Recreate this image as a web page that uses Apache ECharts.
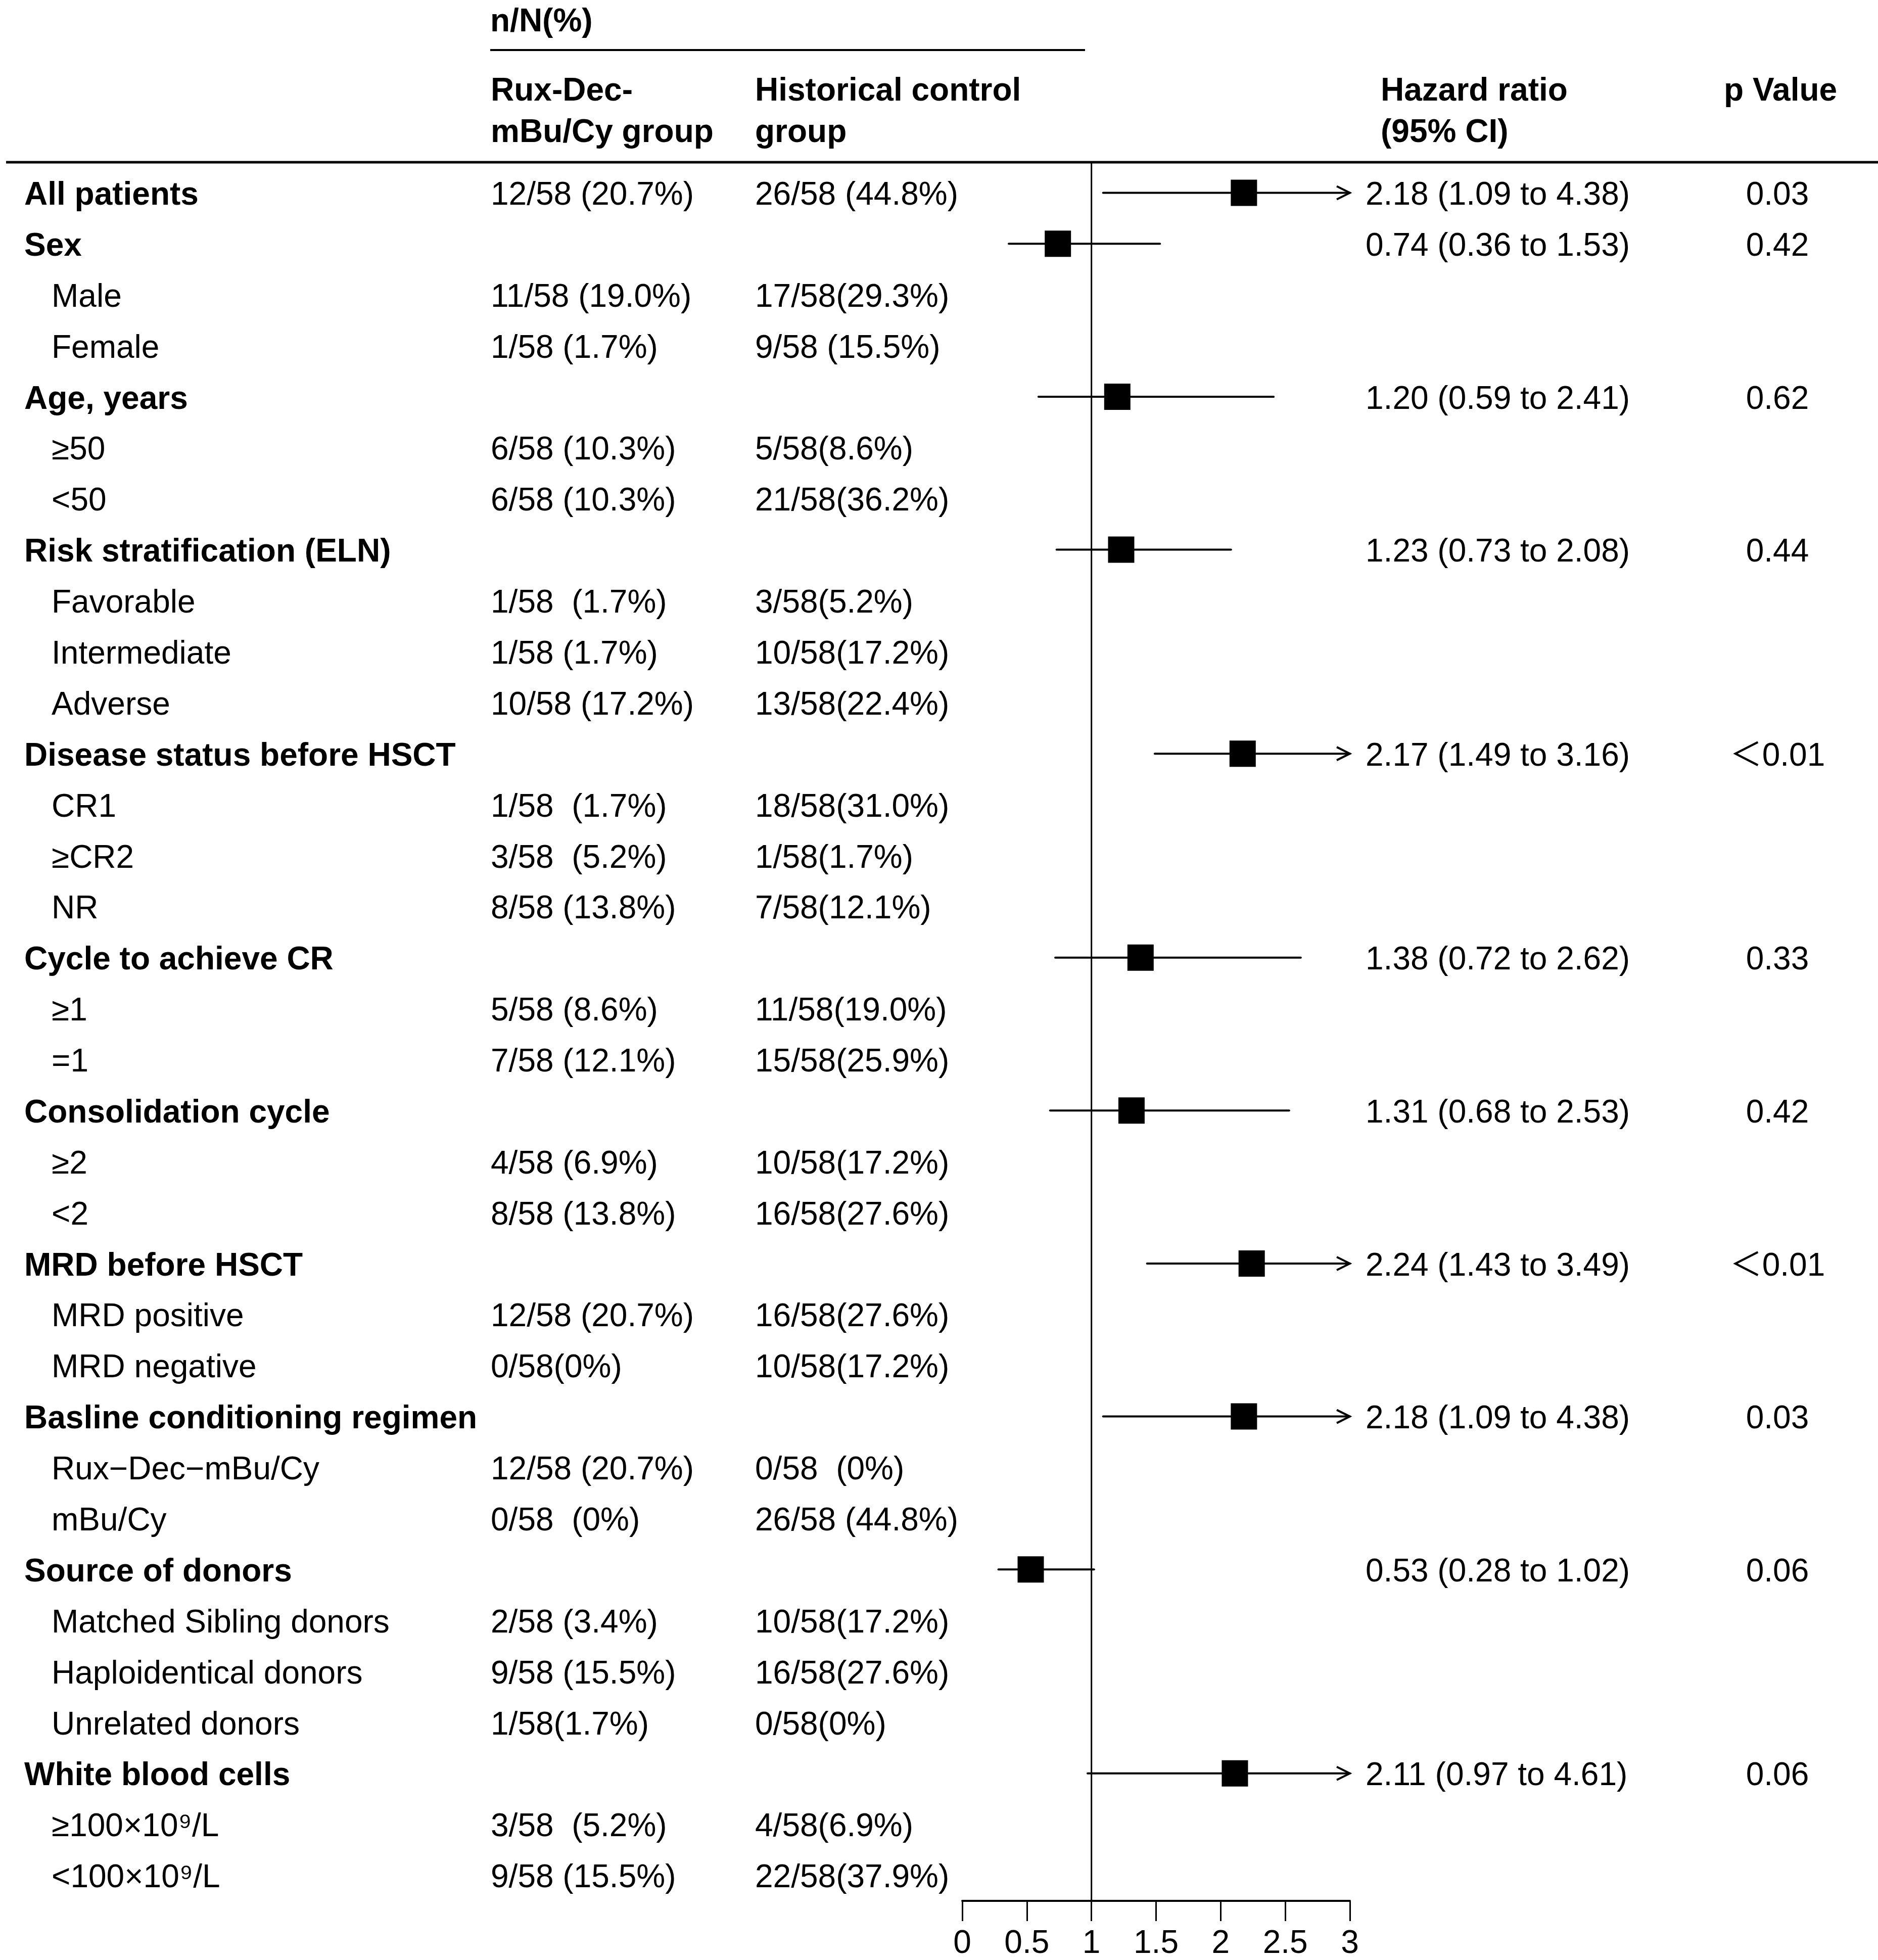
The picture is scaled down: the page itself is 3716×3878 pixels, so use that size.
<!DOCTYPE html>
<html>
<head>
<meta charset="utf-8">
<title>Forest plot</title>
<script src="https://cdn.jsdelivr.net/npm/echarts@6/dist/echarts.min.js"></script>
<style>
  html, body { margin: 0; padding: 0; background: #fff; }
  #forest { width: 3716px; height: 3878px; }
</style>
</head>
<body>
<div id="forest"></div>
<script>
// subgroup rows, top to bottom
var rowLabels = [
  'All patients', 'Sex', 'Male', 'Female',
  'Age, years', '≥50', '<50',
  'Risk stratification (ELN)', 'Favorable', 'Intermediate', 'Adverse',
  'Disease status before HSCT', 'CR1', '≥CR2', 'NR',
  'Cycle to achieve CR', '≥1', '=1',
  'Consolidation cycle', '≥2', '<2',
  'MRD before HSCT', 'MRD positive', 'MRD negative',
  'Basline conditioning regimen', 'Rux\u2212Dec\u2212mBu/Cy', 'mBu/Cy',
  'Source of donors', 'Matched Sibling donors', 'Haploidentical donors', 'Unrelated donors',
  'White blood cells', '≥100×10⁹/L', '<100×10⁹/L'
];
var ruxCounts = [
  '12/58 (20.7%)', '', '11/58 (19.0%)', '1/58 (1.7%)',
  '', '6/58 (10.3%)', '6/58 (10.3%)',
  '', '1/58  (1.7%)', '1/58 (1.7%)', '10/58 (17.2%)',
  '', '1/58  (1.7%)', '3/58  (5.2%)', '8/58 (13.8%)',
  '', '5/58 (8.6%)', '7/58 (12.1%)',
  '', '4/58 (6.9%)', '8/58 (13.8%)',
  '', '12/58 (20.7%)', '0/58(0%)',
  '', '12/58 (20.7%)', '0/58  (0%)',
  '', '2/58 (3.4%)', '9/58 (15.5%)', '1/58(1.7%)',
  '', '3/58  (5.2%)', '9/58 (15.5%)'
];
var controlCounts = [
  '26/58 (44.8%)', '', '17/58(29.3%)', '9/58 (15.5%)',
  '', '5/58(8.6%)', '21/58(36.2%)',
  '', '3/58(5.2%)', '10/58(17.2%)', '13/58(22.4%)',
  '', '18/58(31.0%)', '1/58(1.7%)', '7/58(12.1%)',
  '', '11/58(19.0%)', '15/58(25.9%)',
  '', '10/58(17.2%)', '16/58(27.6%)',
  '', '16/58(27.6%)', '10/58(17.2%)',
  '', '0/58  (0%)', '26/58 (44.8%)',
  '', '10/58(17.2%)', '16/58(27.6%)', '0/58(0%)',
  '', '4/58(6.9%)', '22/58(37.9%)'
];
// hazard ratios only on the group rows (null on sub rows)
var hrEst = [2.18, 0.74, null, null, 1.20, null, null, 1.23, null, null, null,
  2.17, null, null, null, 1.38, null, null, 1.31, null, null, 2.24, null, null,
  2.18, null, null, 0.53, null, null, null, 2.11, null, null];
var hrLow = [1.09, 0.36, null, null, 0.59, null, null, 0.73, null, null, null,
  1.49, null, null, null, 0.72, null, null, 0.68, null, null, 1.43, null, null,
  1.09, null, null, 0.28, null, null, null, 0.97, null, null];
var hrHigh = [4.38, 1.53, null, null, 2.41, null, null, 2.08, null, null, null,
  3.16, null, null, null, 2.62, null, null, 2.53, null, null, 3.49, null, null,
  4.38, null, null, 1.02, null, null, null, 4.61, null, null];
var pValues = ['0.03', '0.42', '', '', '0.62', '', '', '0.44', '', '', '',
  '\uFF1C0.01', '', '', '', '0.33', '', '', '0.42', '', '', '\uFF1C0.01', '', '',
  '0.03', '', '', '0.06', '', '', '', '0.06', '', ''];
var headTop = ['Rux-Dec-', 'Historical control', 'Hazard ratio', 'p Value'];
var headBottom = ['mBu/Cy group', 'group', '(95% CI)', ''];

window.onload = function() {
  var chart = echarts.init(document.getElementById('forest'), null, { renderer: 'canvas' });
  var FONT = "'Liberation Sans', Arial, 'Noto Sans CJK SC', sans-serif";
  var FS = 64;
  var X_MAX = 3;
  var RULE_Y = 321;
  var DY = 6; // canvas 'middle' sits a little high for these caps
  var headX = [971, 1494, 2732, 3411];

  function txt(s, x, y, bold, align) {
    return {
      type: 'text',
      x: x,
      y: y,
      style: {
        text: s,
        fill: '#000',
        fontSize: FS,
        fontFamily: FONT,
        fontWeight: bold ? 'bold' : 'normal',
        align: align || 'left',
        verticalAlign: 'middle'
      }
    };
  }

  // header block
  var graphics = [
    txt('n/N(%)', 970, 44, true),
    { type: 'line', shape: { x1: 970, y1: 99, x2: 2147, y2: 99 }, style: { stroke: '#000', lineWidth: 4 } },
    { type: 'line', shape: { x1: 12, y1: RULE_Y, x2: 3716, y2: RULE_Y }, style: { stroke: '#000', lineWidth: 5 } }
  ];
  for (var h = 0; h < headTop.length; h++) {
    graphics.push(txt(headTop[h], headX[h], 181, true));
    if (headBottom[h]) graphics.push(txt(headBottom[h], headX[h], 263, true));
  }

  var tableData = [], ciData = [], pointData = [];
  for (var i = 0; i < rowLabels.length; i++) {
    tableData.push([0, i]);
    if (hrEst[i] !== null) {
      ciData.push([hrLow[i], hrHigh[i], i]);
      pointData.push([hrEst[i], i]);
    }
  }

  var option = {
    animation: false,
    backgroundColor: '#fff',
    graphic: graphics,
    grid: { left: 1904, width: 767, top: 331, height: 3431, containLabel: false },
    xAxis: {
      type: 'value',
      min: 0,
      max: X_MAX,
      interval: 0.5,
      splitLine: { show: false },
      axisLine: { show: true, onZero: false, lineStyle: { color: '#000', width: 4 } },
      axisTick: { show: true, length: 40, lineStyle: { color: '#000', width: 3 } },
      axisLabel: { color: '#000', fontSize: FS, fontFamily: FONT, margin: 53 }
    },
    yAxis: {
      type: 'category',
      data: rowLabels,
      inverse: true,
      show: false
    },
    series: [
      {
        // text columns of the table
        type: 'custom',
        data: tableData,
        encode: { x: 0, y: 1 },
        clip: false,
        silent: true,
        renderItem: function(params, api) {
          var r = api.value(1);
          var y = api.coord([0, r])[1] + DY;
          var head = hrEst[r] !== null;
          var kids = [txt(rowLabels[r], head ? 48 : 102, y, head)];
          if (ruxCounts[r]) kids.push(txt(ruxCounts[r], 971, y, false));
          if (controlCounts[r]) kids.push(txt(controlCounts[r], 1494, y, false));
          if (head) {
            var s = hrEst[r].toFixed(2) + ' (' + hrLow[r].toFixed(2) + ' to ' + hrHigh[r].toFixed(2) + ')';
            kids.push(txt(s, 2702, y, false));
            kids.push(txt(pValues[r], 3517, y, false, 'center'));
          }
          return { type: 'group', children: kids };
        }
      },
      {
        // reference line at HR = 1
        type: 'custom',
        data: [[1, 0]],
        encode: { x: 0, y: 1 },
        clip: false,
        silent: true,
        renderItem: function(params, api) {
          var x = api.coord([api.value(0), 0])[0];
          var bottom = params.coordSys.y + params.coordSys.height;
          return {
            type: 'line',
            shape: { x1: x, y1: RULE_Y, x2: x, y2: bottom },
            style: { stroke: '#000', lineWidth: 3 }
          };
        }
      },
      {
        // confidence intervals, arrow where the upper bound runs past the axis
        type: 'custom',
        data: ciData,
        encode: { x: [0, 1], y: 2 },
        clip: false,
        silent: true,
        renderItem: function(params, api) {
          var r = api.value(2);
          var hiVal = api.value(1);
          var lo = api.coord([api.value(0), r]);
          var hi = api.coord([Math.min(hiVal, X_MAX), r]);
          var kids = [{
            type: 'line',
            shape: { x1: lo[0], y1: lo[1], x2: hi[0], y2: hi[1] },
            style: { stroke: '#000', lineWidth: 4, lineCap: 'round' }
          }];
          if (hiVal > X_MAX) {
            kids.push({
              type: 'polyline',
              shape: { points: [[hi[0] - 26, hi[1] - 13], [hi[0], hi[1]], [hi[0] - 26, hi[1] + 13]] },
              style: { stroke: '#000', fill: null, lineWidth: 4 }
            });
          }
          return { type: 'group', children: kids };
        }
      },
      {
        type: 'scatter',
        data: pointData,
        symbol: 'rect',
        symbolSize: 52,
        itemStyle: { color: '#000', opacity: 1 },
        silent: true,
        z: 5
      }
    ]
  };
  chart.setOption(option);
};
</script>
</body>
</html>
